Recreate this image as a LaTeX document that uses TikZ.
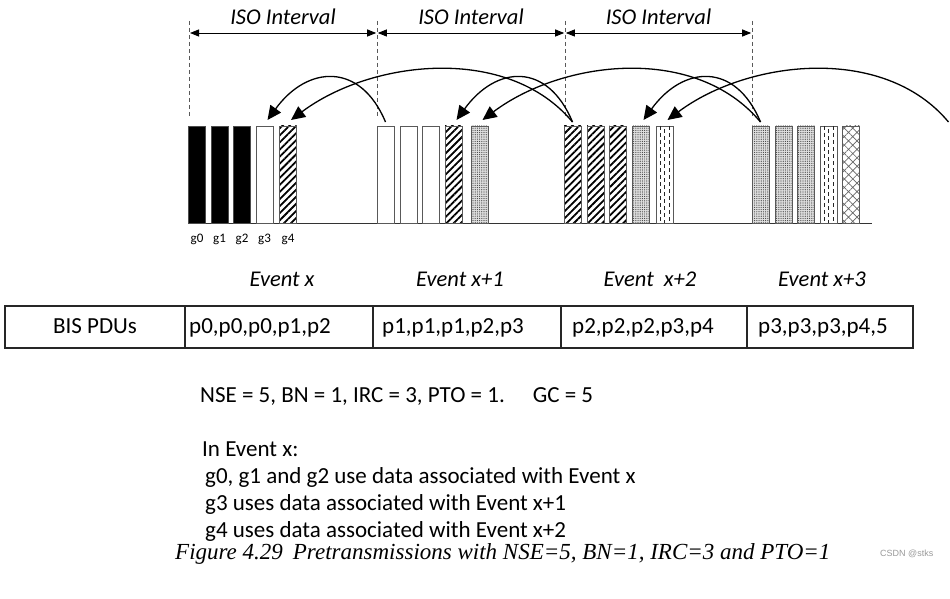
\documentclass[tikz,border=0pt]{standalone}
\usepackage{fontspec}
\setmainfont{Carlito}
\newfontfamily\capfont{Liberation Serif}
\newfontfamily\wmfont{Liberation Sans}
\usetikzlibrary{patterns,patterns.meta,arrows.meta,calc}
\begin{document}
\begin{tikzpicture}[x=1pt,y=-1pt,
  bar/.style={draw=gray!70!black, line width=0.8pt, minimum width=17pt, minimum height=97pt,
    inner sep=0pt, outer sep=0pt, anchor=north west},
  solid/.style={fill=black, draw=black!70},
  hatch/.style={pattern={Lines[angle=45,distance=5pt,line width=1.8pt]}, pattern color=black},
  stipple/.style={preaction={fill=gray!25}, pattern={Dots[distance=2.2pt,radius=0.6pt]}, pattern color=black!75},
  xhatch/.style={pattern={Hatch[angle=45,distance=6pt,line width=0.7pt]}, pattern color=gray!80!black},
  vd/.style={line width=1pt, dash pattern=on 4pt off 3pt, black!85},
  guide/.style={gray!70!black, line width=0.8pt, dash pattern=on 4pt off 3pt},
  ivarrow/.style={line width=0.9pt, {Triangle[length=9pt,width=7pt]}-{Triangle[length=9pt,width=7pt]}},
  curv/.style={line width=1.3pt, -{Triangle[length=14pt,width=13pt]}},
  lbl/.style={font=\fontsize{22.5}{27}\selectfont\itshape, inner sep=0pt},
  glab/.style={font=\fontsize{13}{15}\selectfont, inner sep=0pt, anchor=base},
  txt/.style={font=\fontsize{23}{28}\selectfont, inner sep=0pt, anchor=base west},
  cell/.style={draw=black!85, line width=1.2pt, minimum height=42pt, inner sep=0pt, outer sep=0pt, anchor=north west},
]
\useasboundingbox (0,0) rectangle (950,599);

% guide lines
\coordinate (v1t) at (189,21); \coordinate (v1b) at (189,118);
\coordinate (v2t) at (377,21); \coordinate (v2b) at (377,118);
\coordinate (v3t) at (565,21); \coordinate (v3b) at (565,118);
\coordinate (v4t) at (752,21); \coordinate (v4b) at (752,118);
\draw[guide] (v1t) -- (v1b);
\draw[guide] (v2t) -- (v2b);
\draw[guide] (v3t) -- (v3b);
\draw[guide] (v4t) -- (v4b);

% interval arrows
\coordinate (i1) at (189,33); \coordinate (i2) at (377,33);
\coordinate (i3) at (565,33); \coordinate (i4) at (752,33);
\draw[ivarrow] ([xshift=1pt]i1) -- ([xshift=-0.8pt]i2);
\draw[ivarrow] ([xshift=0.8pt]i2) -- ([xshift=-0.8pt]i3);
\draw[ivarrow] ([xshift=0.8pt]i3) -- ([xshift=-0.8pt]i4);
\node[lbl, anchor=base] (iso1) at (283,25) {ISO Interval};
\node[lbl, anchor=base] (iso2) at (471,25) {ISO Interval};
\node[lbl, anchor=base] (iso3) at (658.5,25) {ISO Interval};

% baseline
\coordinate (bl1) at (188,223); \coordinate (bl2) at (872,223);
\draw[black!80, line width=1pt] (bl1) -- (bl2);

% group 1
\node[bar, solid] (a0) at (188.5,126) {};
\node[bar, solid] (a1) at (211,126) {};
\node[bar, solid] (a2) at (233.5,126) {};
\node[bar] (a3) at (256,126) {};
\node[bar, hatch] (a4) at (279.5,126) {};
% group 2
\node[bar] (b0) at (377,126) {};
\node[bar] (b1) at (400,126) {};
\node[bar] (b2) at (422.5,126) {};
\node[bar, hatch] (b3) at (445,126) {};
\node[bar, stipple] (b4) at (471,126) {};
% group 3
\node[bar, hatch] (c0) at (564,126) {};
\node[bar, hatch] (c1) at (587,126) {};
\node[bar, hatch] (c2) at (609,126) {};
\node[bar, stipple] (c3) at (632,126) {};
\node[bar] (c4) at (656,126) {};
% group 4
\node[bar, stipple] (d0) at (752,126) {};
\node[bar, stipple] (d1) at (775,126) {};
\node[bar, stipple] (d2) at (797.5,126) {};
\node[bar] (d3) at (820,126) {};
\node[bar, xhatch] (d4) at (842.5,126) {};

% dashed-line fills
\draw[vd] ([xshift=4pt]c4.north west) -- ([xshift=4pt]c4.south west);
\draw[vd, dash phase=4pt] (c4.north) -- (c4.south);
\draw[vd] ([xshift=-4pt]c4.north east) -- ([xshift=-4pt]c4.south east);
\draw[vd] ([xshift=4pt]d3.north west) -- ([xshift=4pt]d3.south west);
\draw[vd, dash phase=4pt] (d3.north) -- (d3.south);
\draw[vd] ([xshift=-4pt]d3.north east) -- ([xshift=-4pt]d3.south east);

% g labels
\node[glab] (g0) at ($(a0.south)+(0,19)$) {g0};
\node[glab] (g1) at ($(a1.south)+(0,19)$) {g1};
\node[glab] (g2) at ($(a2.south)+(0,19)$) {g2};
\node[glab] (g3) at ($(a3.south)+(0,19)$) {g3};
\node[glab] (g4) at ($(a4.south)+(0,19)$) {g4};

% curved arrows
\coordinate (far) at (948.5,122);
\draw[curv] ([yshift=4pt]b0.north) .. controls +(-25,-60) and +(40,-55) .. ([xshift=3pt,yshift=6pt]a3.north);
\draw[curv] ([yshift=4pt]c0.north) .. controls +(-25,-60) and +(40,-55) .. ([xshift=3pt,yshift=6pt]b3.north);
\draw[curv] ([yshift=4pt]d0.north) .. controls +(-25,-60) and +(40,-55) .. ([xshift=3pt,yshift=6pt]c3.north);
\draw[curv] ([yshift=4pt]c0.north) .. controls +(-65,-78) and +(80,-60) .. ([xshift=3pt,yshift=6pt]a4.north);
\draw[curv] ([yshift=4pt]d0.north) .. controls +(-65,-78) and +(80,-60) .. ([xshift=3pt,yshift=6pt]b4.north);
\draw[curv] (far) .. controls +(-65,-78) and +(80,-60) .. ([xshift=3pt,yshift=6pt]c4.north);

% event labels
\node[lbl, anchor=base] (e0) at (282,286) {Event x};
\node[lbl, anchor=base] (e1) at (460,286) {Event x+1};
\node[lbl, anchor=base] (e2) at (650,286) {Event\ \ x+2};
\node[lbl, anchor=base] (e3) at (822,286) {Event x+3};

% table
\node[cell, minimum width=180pt] (t0) at (5,306) {};
\node[cell, minimum width=188pt] (t1) at (185,306) {};
\node[cell, minimum width=188pt] (t2) at (373,306) {};
\node[cell, minimum width=186pt] (t3) at (561,306) {};
\node[cell, minimum width=166pt] (t4) at (747,306) {};
\node[txt, anchor=base] (x0) at ($(t0.south)+(0,-15)$) {BIS PDUs};
\node[txt] (x1) at ($(t1.south west)+(4,-15)$) {p0,p0,p0,p1,p2};
\node[txt] (x2) at ($(t2.south west)+(9,-15)$) {p1,p1,p1,p2,p3};
\node[txt] (x3) at ($(t3.south west)+(11,-15)$) {p2,p2,p2,p3,p4};
\node[txt] (x4) at ($(t4.south west)+(11,-15)$) {p3,p3,p3,p4,5};

% notes
\node[txt] (n1) at (200,402) {NSE = 5, BN = 1, IRC = 3, PTO = 1.\hspace{28pt}GC = 5};
\node[txt] (n2) at (202,456) {In Event x:};
\node[txt] (n3) at (205,483) {g0, g1 and g2 use data associated with Event x};
\node[txt] (n4) at (205,510.5) {g3 uses data associated with Event x+1};
\node[txt] (n5) at (205,537.5) {g4 uses data associated with Event x+2};

% caption
\node[font=\fontsize{23}{27}\selectfont\capfont\itshape, inner sep=0pt, anchor=base west] (cap) at (175,559)
  {Figure 4.29\hspace{10pt}Pretransmissions with NSE=5, BN=1, IRC=3 and PTO=1};
\node[font=\fontsize{9}{11}\selectfont\wmfont, text=gray!80, inner sep=0pt, anchor=base west] (wm) at (880,556) {CSDN @stks};
\end{tikzpicture}
\end{document}
